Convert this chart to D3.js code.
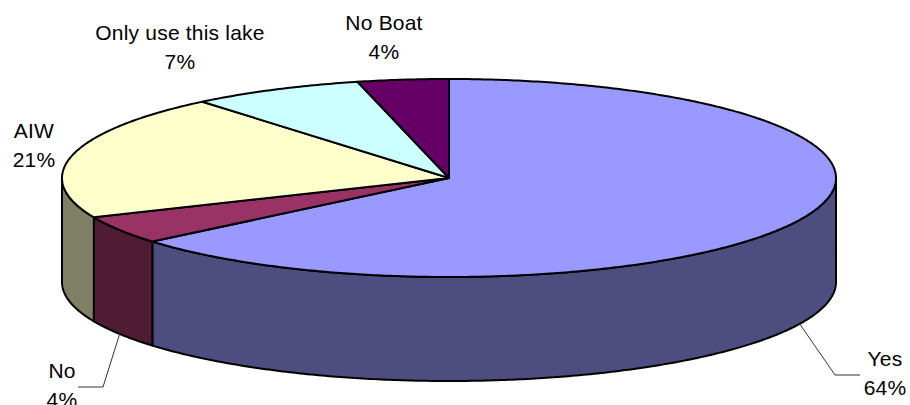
<!DOCTYPE html>
<html><head><meta charset="utf-8">
<script src="https://cdn.jsdelivr.net/npm/d3@7"></script>
<style>html,body{margin:0;background:#fff}svg{display:block}text{font-family:"Liberation Sans",Arial,sans-serif;font-size:21px;fill:#000}</style>
</head><body><svg width="910" height="405"></svg>
<script>
const categories = ["Yes","No","AIW","Only use this lake","No Boat"];
const percentLabels = ["64%","4%","21%","7%","4%"];
const values = [63.9,4.6,20.5,7.2,3.8];
const topColors = ["#9999ff","#993366","#ffffcc","#ccffff","#660066"];
const sideColors = ["#4d4d7f","#4f1c33","#7f7f66","#667f7f","#330033"];
const labelAnchors = [[885,366],[62,378],[34,138],[180,40],[384,30]];

const svg = d3.select("svg");
const sx = d3.scaleLinear([-1,1],[62,836]);
const sy = d3.scaleLinear([-1,1],[79,277]);
const depth = 104;
const pie = d3.pie().sort(null).value(d=>d).startAngle(0).endAngle(2*Math.PI);
const arcs = pie(values);
const px = a=>sx(Math.sin(a)), py = (a,dy=0)=>sy(-Math.cos(a))+dy;
const rim = (a0,a1,dy=0)=>{
  const n = Math.max(2,Math.ceil((a1-a0)/0.01));
  return d3.range(n+1).map(i=>{const a=a0+(a1-a0)*i/n;return [px(a),py(a,dy)];});
};
const line = d3.line();
const halfPi = Math.PI/2;
// side walls (front half only)
arcs.forEach((d,i)=>{
  const a0=Math.max(d.startAngle,halfPi), a1=Math.min(d.endAngle,3*halfPi);
  if(a1<=a0) return;
  const pts = rim(a0,a1).concat(rim(a0,a1,depth).reverse());
  svg.append("path").attr("d",line(pts)+"Z").attr("fill",sideColors[i]).attr("stroke","#000").attr("stroke-width",2).attr("stroke-linejoin","round");
});
// top faces
arcs.forEach((d,i)=>{
  const pts = [[sx(0),sy(0)]].concat(rim(d.startAngle,d.endAngle));
  svg.append("path").attr("d",line(pts)+"Z").attr("fill",topColors[i]).attr("stroke","#000").attr("stroke-width",2).attr("stroke-linejoin","round");
});
// leader lines
const mid = d=>(d.startAngle+d.endAngle)/2;
[[0,835,375,860],[1,103,387,78]].forEach(([i,ex,ey,tx])=>{
  const a=mid(arcs[i]);
  svg.append("path").attr("d",line([[px(a),py(a,depth)],[ex,ey],[tx,ey]])).attr("fill","none").attr("stroke","#333").attr("stroke-width",1);
});
// labels
categories.forEach((c,i)=>{
  const [x,y]=labelAnchors[i];
  const t=svg.append("text").attr("text-anchor","middle").attr("letter-spacing","0.2px");
  t.append("tspan").attr("x",x).attr("y",y).text(c);
  t.append("tspan").attr("x",x).attr("y",y+29).text(percentLabels[i]);
});
</script></body></html>
